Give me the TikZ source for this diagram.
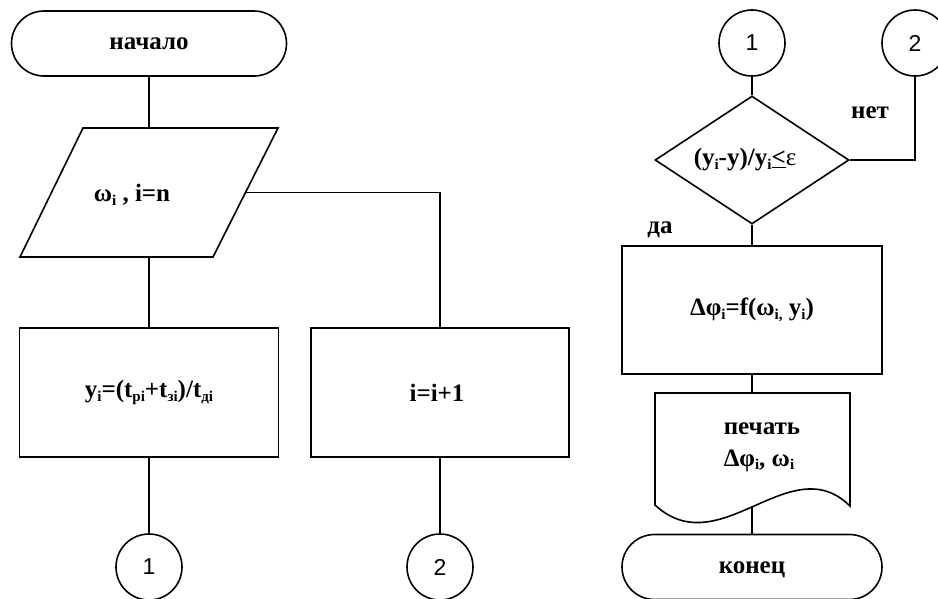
\documentclass[tikz,border=0pt]{standalone}
\usepackage{fontspec}
\setmainfont{Liberation Serif}
\newfontfamily\digitfont{Liberation Sans}
\usetikzlibrary{shapes.geometric}
\newcommand{\sbs}[1]{\raisebox{-0.3ex}{\fontsize{15}{15}\selectfont #1}}
\begin{document}
\begin{tikzpicture}[x=1pt,y=-1pt,line width=1.6pt,
  txt/.style={font=\fontsize{25}{30}\selectfont\bfseries, inner sep=0pt},
  term/.style={txt, draw, rounded corners=32.5pt, minimum width=#1, minimum height=65pt},
  proc/.style={txt, draw, minimum width=#1, minimum height=129pt},
  conn/.style={draw, circle, minimum size=66pt, inner sep=0pt, font=\digitfont\fontsize{23}{23}\selectfont},
  dec/.style={txt, draw, diamond, minimum width=194pt, minimum height=128pt, aspect=1.5},
  ghost/.style={inner sep=0pt, minimum width=#1}
]
\useasboundingbox (0,0) rectangle (938,598);
\clip (0,0) rectangle (938,598);

% left column
\node[term=275pt] (start) at (149,43.5) {начало};
\node[ghost=258pt, minimum height=129pt] (inp) at (149,192.5) {};
\draw (83,128) -- (278,128) -- (213,257) -- (20,257) -- cycle;
\node[txt] (inptext) at (132,195) {ω\sbs{i} , i=n};
\coordinate (inpR) at (245.5,192.5);

\node[proc=259pt] (calc) at (149,392.5) {y\sbs{i}=(t\sbs{рi}+t\sbs{зi})/t\sbs{дi}};
\node[proc=258pt] (inc) at (440,392.5) {\hspace*{-6pt}i=i+1};
\node[conn] (c1b) at (149,567) {1};
\node[conn] (c2b) at (440,567) {2};

\draw (start.south) -- (inp.north);
\draw (inpR) -| (inc.north);
\draw (inp.south) -- (calc.north);
\draw (calc.south) -- (c1b.north);
\draw (inc.south) -- (c2b.north);

% right column
\node[conn] (c1t) at (752,43) {1};
\node[conn] (c2t) at (915,43) {2};
\node[dec] (dia) at (752,160) {\hspace*{-14pt}(y\sbs{i}-y)/y\sbs{i}\underline{<}{\mdseries ε}};
\node[txt] (no) at (870,113) {нет};
\node[txt] (yes) at (660,230) {да};
\node[proc=260pt, minimum height=128pt] (dphi) at (752,310) {Δφ\sbs{i}=f(ω\sbs{i,} y\sbs{i})};
\node[ghost=195pt, minimum height=112pt] (doc) at (752,449) {};
\draw (655,393) -- (850,393) -- (850,506) .. controls (790,447) and (720,565) .. (655,505) -- cycle;
\node[txt, anchor=west, align=left, font=\fontsize{25}{32}\selectfont\bfseries] (doctext) at (723,447) {печать\\Δφ\sbs{i}, ω\sbs{i}};
\coordinate (docB) at (752,506);
\node[term=260pt] (end) at (752,567) {\raisebox{-6pt}[0pt][0pt]{конец}};

\draw (c1t.south) -- (dia.north);
\draw (dia.east) -| (c2t.south);
\draw (dia.south) -- (dphi.north);
\draw (dphi.south) -- (doc.north);
\draw (docB) -- (end.north);
\end{tikzpicture}
\end{document}
